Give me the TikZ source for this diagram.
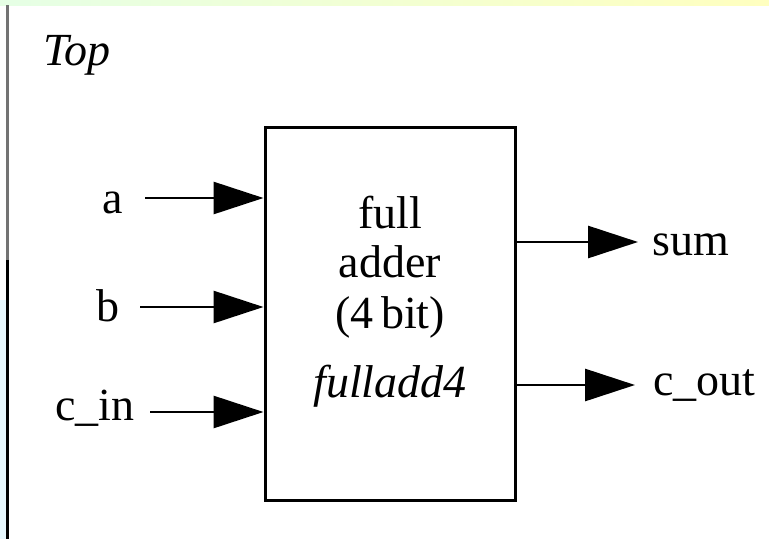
\documentclass[tikz,border=0pt]{standalone}
\usepackage{fontspec}
\setmainfont{Liberation Serif}
\usetikzlibrary{arrows.meta}
\begin{document}
\begin{tikzpicture}[x=1pt,y=-1pt,
  lbl/.style={anchor=base,inner sep=0pt,font=\fontsize{46}{50}\selectfont},
  ilbl/.style={lbl,font=\fontsize{46}{50}\selectfont\itshape},
  blockbox/.style={draw=black,line width=3pt,minimum width=250pt,minimum height=373pt,inner sep=0pt},
  sig/.style={line width=2.8pt,-{Triangle[length=50pt,width=32pt]}}]
\useasboundingbox (0,0) rectangle (769,539);
% page edges of the scanned sheet
\shade[left color=green!10,right color=yellow!25] (0,0) rectangle (769,5);
\fill[cyan!10] (0,300) rectangle (6,539);
\draw[line width=2.8pt,black!55] (7.5,5) -- (7.5,260);
\draw[line width=2.8pt,black] (7.5,260) -- (7.5,539);
% title
\node[ilbl] (top) at (77,65) {Top};
% the adder block
\node[blockbox] (box) at (390,313.5) {};
\node[lbl] (t1) at (390,228) {full};
\node[lbl] (t2) at (390,277) {adder};
\node[lbl] (t3) at (390,328) {(4\,bit)};
\node[ilbl] (t4) at (390,397) {fulladd4};
% input ports
\node[lbl] (la) at (113,213) {a};
\node[lbl] (lb) at (108,321) {b};
\node[lbl] (lc) at (95,420) {c\_in};
\coordinate (a0) at (145,198);
\coordinate (b0) at (140,307);
\coordinate (c0) at (150,412);
\draw[sig] (a0) -- (a0 -| box.west);
\draw[sig] (b0) -- (b0 -| box.west);
\draw[sig] (c0) -- (c0 -| box.west);
% output ports
\coordinate (s1) at (638,242);
\coordinate (o1) at (635,385);
\draw[sig] (s1 -| box.east) -- (s1);
\draw[sig] (o1 -| box.east) -- (o1);
\node[lbl,anchor=base west] (ls) at (652,255) {sum};
\node[lbl,anchor=base west] (lo) at (653,395) {c\_out};
\end{tikzpicture}
\end{document}
